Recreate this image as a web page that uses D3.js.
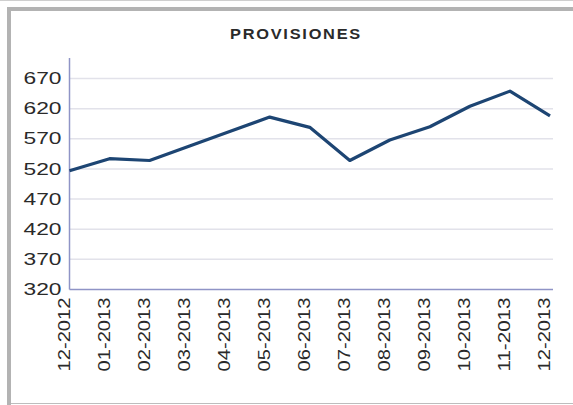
<!DOCTYPE html>
<html>
<head>
<meta charset="utf-8">
<script src="https://cdn.jsdelivr.net/npm/d3@7"></script>
<style>
  body { margin: 0; background: #fff; }
  svg { display: block; font-family: "Liberation Sans", Arial, sans-serif; }
</style>
</head>
<body>
<div id="chart"></div>
<script>
var svgWidth = 573;
var svgHeight = 405;

// data
var months = ["12-2012", "01-2013", "02-2013", "03-2013", "04-2013", "05-2013", "06-2013",
              "07-2013", "08-2013", "09-2013", "10-2013", "11-2013", "12-2013"];
var provisiones = [517, 537, 534, 558, 582, 606, 589, 534, 568, 590, 624, 649, 608];
var yTicks = [320, 370, 420, 470, 520, 570, 620, 670];

var margin = { top: 58, bottom: 115.5, left: 69.5, right: 22 };
var width = svgWidth - margin.left - margin.right;
var height = svgHeight - margin.top - margin.bottom;

var svg = d3.select("#chart")
    .append("svg")
    .attr("width", svgWidth)
    .attr("height", svgHeight);

// frame
svg.append("line").attr("x1", 0).attr("x2", svgWidth).attr("y1", 0.5).attr("y2", 0.5)
    .attr("stroke", "#cfcfcf").attr("stroke-width", 1);
svg.append("rect").attr("x", 7).attr("y", 7).attr("width", 4).attr("height", 398).attr("fill", "#b3b3b3");
svg.append("rect").attr("x", 7).attr("y", 7).attr("width", svgWidth - 7).attr("height", 4).attr("fill", "#b3b3b3");
svg.append("line").attr("x1", 11).attr("x2", svgWidth).attr("y1", 403.5).attr("y2", 403.5)
    .attr("stroke", "#bdbdbd").attr("stroke-width", 1);

svg.append("text")
    .attr("x", 296)
    .attr("y", 38.5)
    .attr("text-anchor", "middle")
    .attr("font-size", "14px")
    .attr("font-weight", "bold")
    .attr("letter-spacing", "1.5px")
    .attr("fill", "#2a2a2a")
    .attr("textLength", 132)
    .attr("lengthAdjust", "spacingAndGlyphs")
    .text("PROVISIONES");

var chartGroup = svg.append("g")
    .attr("transform", `translate(${margin.left}, ${margin.top})`);

var xScale = d3.scalePoint()
    .domain(months)
    .range([0, width - 1]);

var yScale = d3.scaleLinear()
    .domain([320, 704])
    .range([height, 0]);

// gridlines
chartGroup.selectAll(".grid")
    .data(yTicks.slice(1))
    .enter()
    .append("line")
    .attr("class", "grid")
    .attr("x1", 0)
    .attr("x2", width + 2)
    .attr("y1", d => yScale(d))
    .attr("y2", d => yScale(d))
    .attr("stroke", "#e2e2ea")
    .attr("stroke-width", 1.5);

var leftAxis = d3.axisLeft(yScale).tickValues(yTicks).tickSize(0).tickPadding(8);
var bottomAxis = d3.axisBottom(xScale).tickSize(0).tickPadding(8);

var yAxisG = chartGroup.append("g").call(leftAxis);
yAxisG.select(".domain").remove();
yAxisG.selectAll("text")
    .attr("font-size", "16px")
    .attr("font-family", "Liberation Sans, Arial, sans-serif")
    .attr("fill", "#2a2a2a")
    .attr("textLength", 38)
    .attr("lengthAdjust", "spacingAndGlyphs");

var xAxisG = chartGroup.append("g")
    .attr("transform", `translate(0, ${height})`)
    .call(bottomAxis);
xAxisG.select(".domain").remove();
xAxisG.selectAll("text")
    .attr("font-size", "16px")
    .attr("font-family", "Liberation Sans, Arial, sans-serif")
    .attr("fill", "#2a2a2a")
    .attr("transform", "rotate(-90)")
    .attr("text-anchor", "end")
    .attr("x", -8)
    .attr("y", -6)
    .attr("dy", "0.35em")
    .attr("textLength", 74)
    .attr("lengthAdjust", "spacingAndGlyphs");

// axis lines
chartGroup.append("line")
    .attr("x1", 0).attr("x2", 0).attr("y1", 0).attr("y2", height)
    .attr("stroke", "#8f94c6").attr("stroke-width", 1.5);
chartGroup.append("line")
    .attr("x1", 0).attr("x2", width + 2).attr("y1", height).attr("y2", height)
    .attr("stroke", "#8f94c6").attr("stroke-width", 1.5);

var line = d3.line()
    .x((d, i) => xScale(months[i]))
    .y(d => yScale(d));

chartGroup.append("path")
    .datum(provisiones)
    .attr("d", line)
    .attr("fill", "none")
    .attr("stroke", "#1d4573")
    .attr("stroke-width", 3.2)
    .attr("stroke-linejoin", "round");
</script>
</body>
</html>
